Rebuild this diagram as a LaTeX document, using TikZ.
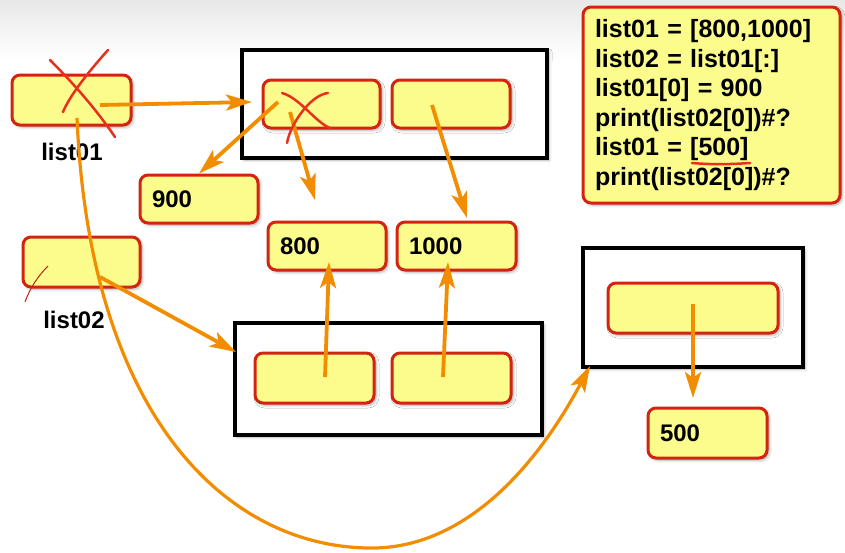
\documentclass[tikz,border=0pt]{standalone}
\usepackage{fontspec}
\setmainfont{Liberation Sans}
\usetikzlibrary{arrows.meta,shadows.blur,calc}
\definecolor{cellfill}{RGB}{252,252,140}
\definecolor{cellred}{RGB}{210,36,16}
\definecolor{arrowor}{RGB}{242,140,0}
\definecolor{xred}{RGB}{232,48,28}
\begin{document}
\begin{tikzpicture}[x=1pt,y=-1pt,
  font=\bfseries\fontsize{24}{29}\selectfont,
  cell/.style={draw=cellred, line width=3pt, fill=cellfill, rounded corners=8pt, inner sep=0pt,
    blur shadow={shadow xshift=2pt, shadow yshift=-2pt, shadow opacity=35, shadow blur radius=3pt}},
  valcell/.style={cell, inner xsep=12pt, align=left},
  frame/.style={draw=black, line width=4.5pt, fill=white, inner sep=0pt,
    blur shadow={shadow xshift=2pt, shadow yshift=-2pt, shadow opacity=30, shadow blur radius=3pt}},
  ptr/.style={draw=arrowor, line width=3.8pt, -{Stealth[length=26pt,width=16pt,inset=6pt]}},
  xmark/.style={draw=xred, line width=2.5pt, line cap=round},
  lbl/.style={inner sep=0pt}]
\useasboundingbox (0,0) rectangle (845,552);
\fill[top color=black!9, bottom color=white] (0,0) rectangle (845,60);

% frames
\node[frame, minimum width=305pt, minimum height=108pt] (topbox) at (394.5,104) {};
\node[frame, minimum width=307pt, minimum height=112pt] (lowbox) at (388.5,379) {};
\node[frame, minimum width=220pt, minimum height=119pt] (rbox) at (693,307.5) {};

% variable cells
\node[cell, minimum width=119pt, minimum height=50pt] (l01) at (71.5,100) {};
\node[lbl] (l01lbl) at (72,152) {list01};
\node[cell, minimum width=117pt, minimum height=50pt] (l02) at (81.5,262) {};
\node[lbl] (l02lbl) at (74,320) {list02};

% list cells
\node[cell, minimum width=117pt, minimum height=48pt] (A) at (321.5,104) {};
\node[cell, minimum width=118pt, minimum height=48pt] (B) at (451,104) {};
\node[cell, minimum width=119pt, minimum height=50pt] (C) at (314.5,378) {};
\node[cell, minimum width=119pt, minimum height=50pt] (D) at (451.5,378) {};
\node[cell, minimum width=170pt, minimum height=50pt] (E) at (693,308) {};

% value cells
\node[valcell, text width=94pt, minimum height=48pt] (n900) at (199,199) {900};
\node[valcell, text width=94pt, minimum height=48pt] (n800) at (327,246) {800};
\node[valcell, text width=95pt, minimum height=48pt] (n1000) at (456.5,246) {1000};
\node[valcell, text width=95pt, minimum height=50pt] (n500) at (707.5,433) {500};

% code box
\node[cell, minimum width=257pt, minimum height=196pt, text width=233pt, inner xsep=12pt, align=left,
  font=\bfseries\fontsize{25}{29.6}\selectfont] (code) at (711.5,105)
  {list01 = [800,1000]\\list02 = list01[:]\\list01[0] = 900\\print(list02[0])\#?\\list01 = [500]\\print(list02[0])\#?};

% pointer coordinates
\coordinate (s1) at (100,105);
\coordinate (e1) at (252,102);
\coordinate (sA1) at (278,102);
\coordinate (sA2) at (290,112);
\coordinate (e800a) at (315,200);
\coordinate (sB) at (432,105);
\coordinate (e1000a) at (467,218);
\coordinate (s2) at (100,277);
\coordinate (e2) at (236,352);
\coordinate (sC) at (325,377);
\coordinate (e800b) at (329,262);
\coordinate (sD) at (443,377);
\coordinate (e1000b) at (448,262);
\coordinate (sE) at (693,304);
\coordinate (e500) at (693,398);
\coordinate (c0) at (77,118);
\coordinate (e9) at (590,366);

% arrows
\draw[ptr] (s1) -- (e1);
\draw[ptr] (sA1) -- (n900.north);
\draw[ptr] (sA2) -- (e800a);
\draw[ptr] (sB) -- (e1000a);
\draw[ptr] (s2) -- (e2);
\draw[ptr] (sC) -- (e800b);
\draw[ptr] (sD) -- (e1000b);
\draw[ptr] (sE) -- (e500);
\draw[ptr, line width=3.2pt] (c0) .. controls (90,420) and (230,550) .. (375,548)
  .. controls (470,546) and (540,460) .. (e9);

% crossings and marks
\draw[xmark] (50,60) .. controls (80,90) and (100,115) .. (115,137);
\draw[xmark] (108,50) .. controls (90,70) and (70,95) .. (63,112);
\draw[xmark] (282,93) .. controls (300,98) and (315,122) .. (330,128);
\draw[xmark] (328,93) .. controls (310,95) and (290,125) .. (287,143);
\draw[draw=xred!80!black, line width=1pt] (48,266) .. controls (38,276) and (30,288) .. (25,302);
\draw[draw=xred, line width=2.5pt, line cap=round] (692,163) .. controls (715,165) and (735,164) .. (750,163);
\end{tikzpicture}
\end{document}
